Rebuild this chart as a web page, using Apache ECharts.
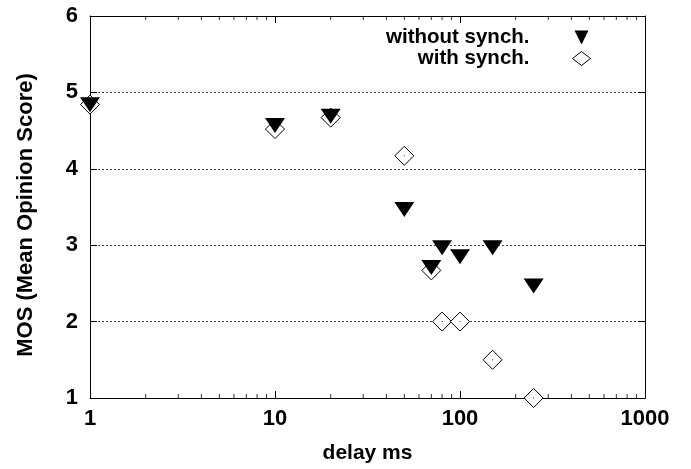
<!DOCTYPE html>
<html><head><meta charset="utf-8">
<script src="https://cdn.jsdelivr.net/npm/echarts@6/dist/echarts.min.js"></script>
<style>html,body{margin:0;padding:0;background:#fff}#c{width:691px;height:469px}</style>
</head><body><div id="c"></div>
<script>
const delays = [1, 10, 20, 50, 70, 80, 100, 150, 250];
const withoutSynch = [4.87, 4.6, 4.72, 3.5, 2.74, 3.0, 2.88, 3.0, 2.5];
const withSynch = [4.84, 4.52, 4.67, 4.17, 2.67, 2.0, 2.0, 1.5, 1.0];
const xTickLabels = [1, 10, 100, 1000];
const yTickLabels = [1, 2, 3, 4, 5, 6];
const minorTicks = [2,3,4,5,6,7,8,9,20,30,40,50,60,70,80,90,200,300,400,500,600,700,800,900];

const font = 'Liberation Sans, Arial, Helvetica, sans-serif';
const chart = echarts.init(document.getElementById('c'));
const pairs = (xs, ys) => xs.map((x, i) => [x, ys[i]]);
chart.setOption({
  animation: false,
  backgroundColor: '#fff',
  grid: {left: 90, right: 46, top: 16, bottom: 69},
  legend: {
    orient: 'vertical', right: 95, top: 22, align: 'right',
    itemWidth: 18, itemHeight: 14, itemGap: 0,
    textStyle: {fontFamily: font, fontWeight: 'bold', fontSize: 20.5, lineHeight: 20, color: '#000', padding: [0, 38, 0, 0]},
    data: [
      {name: 'without synch.', icon: 'path://M-1,-1L1,-1L0,1Z', itemStyle: {color: '#000'}},
      {name: 'with synch.', icon: 'diamond', itemStyle: {color: '#fff', borderColor: '#000', borderWidth: 1}}
    ]
  },
  xAxis: [{
    type: 'log', logBase: 10, min: 1, max: 1000,
    name: 'delay ms', nameLocation: 'middle', nameGap: 45,
    nameTextStyle: {fontFamily: font, fontWeight: 'bold', fontSize: 21, color: '#000'},
    axisLine: {lineStyle: {color: '#000', width: 1}},
    axisTick: {inside: true, length: 7, lineStyle: {color: '#000'}},
    axisLabel: {fontFamily: font, fontWeight: 'bold', fontSize: 22, color: '#000', margin: 10,
      formatter: v => xTickLabels.includes(Math.round(v)) ? String(Math.round(v)) : ''},
    splitLine: {show: false}
  }, {
    type: 'log', logBase: 10, min: 1, max: 1000, position: 'top',
    axisLine: {lineStyle: {color: '#000', width: 1}},
    axisTick: {inside: true, length: 7, lineStyle: {color: '#000'}},
    axisLabel: {show: false}, splitLine: {show: false}
  }],
  yAxis: [{
    type: 'value', min: 1, max: 6, interval: 1,
    name: 'MOS (Mean Opinion Score)', nameLocation: 'middle', nameGap: 53,
    nameTextStyle: {fontFamily: font, fontWeight: 'bold', fontSize: 22, color: '#000', padding: [0, 16, 0, 0]},
    axisLine: {show: true, lineStyle: {color: '#000', width: 1}},
    axisTick: {show: true, inside: true, length: 7, lineStyle: {color: '#000'}},
    axisLabel: {fontFamily: font, fontWeight: 'bold', fontSize: 22, color: '#000', margin: 12,
      formatter: v => yTickLabels.includes(v) ? String(v) : ''},
    splitLine: {show: true, lineStyle: {color: '#444', type: [2, 2], width: 1}}
  }, {
    type: 'value', min: 1, max: 6, interval: 1, position: 'right',
    axisLine: {show: true, lineStyle: {color: '#000', width: 1}},
    axisTick: {show: true, inside: true, length: 7, lineStyle: {color: '#000'}},
    axisLabel: {show: false}, splitLine: {show: false}
  }],
  series: [
    {
      name: 'minor-bottom', type: 'scatter', silent: true, clip: false,
      symbol: 'rect', symbolSize: [1, 4], symbolOffset: [0, -2],
      itemStyle: {color: '#000'}, z: 1,
      data: minorTicks.map(v => [v, 1])
    },
    {
      name: 'minor-top', type: 'scatter', silent: true, clip: false,
      symbol: 'rect', symbolSize: [1, 4], symbolOffset: [0, 2],
      itemStyle: {color: '#000'}, z: 1,
      data: minorTicks.map(v => [v, 6])
    },
    {
      name: 'with synch.', type: 'scatter', clip: false,
      symbol: 'diamond', symbolSize: [19, 19],
      itemStyle: {color: '#fff', borderColor: '#000', borderWidth: 1, opacity: 1},
      z: 3,
      data: pairs(delays, withSynch)
    },
    {
      name: 'with-dot', type: 'scatter', clip: false, silent: true,
      symbol: 'rect', symbolSize: [1, 1], itemStyle: {color: '#000'}, z: 4,
      data: pairs(delays, withSynch)
    },
    {
      name: 'without synch.', type: 'scatter', clip: false,
      symbol: 'path://M-1,-1L1,-1L0,1Z', symbolSize: [20, 15], symbolOffset: [0, 2.5],
      itemStyle: {color: '#000', opacity: 1},
      z: 5,
      data: pairs(delays, withoutSynch)
    }
  ]
});
</script></body></html>
